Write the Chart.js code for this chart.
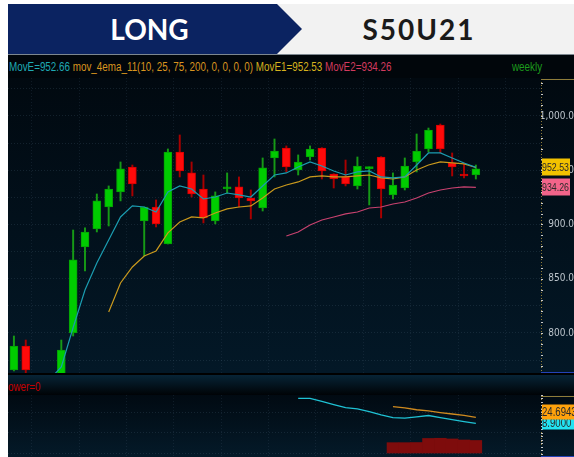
<!DOCTYPE html>
<html>
<head>
<meta charset="utf-8">
<script src="https://cdn.jsdelivr.net/npm/chart.js@4.4.0/dist/chart.umd.min.js"></script>
<style>
    html, body { margin: 0; padding: 0; background: #fff; }
    body { width: 574px; height: 457px; position: relative; overflow: hidden; }
    #header { position: absolute; left: 8px; top: 4px; width: 566px; height: 50px; background: #f2f2f2;
              border-bottom: 1px solid #7d8790; }
    #navy { position: absolute; left: 0; top: 0; width: 300px; height: 50px; background: #0b2361;
            clip-path: polygon(0 0, 269px 0, 294px 25px, 269px 50px, 0 50px); }
    .htitle { position: absolute; top: 0; height: 50px; line-height: 50px; font-family: Lato, 'Open Sans', sans-serif;
              font-weight: 700; font-size: 28px; text-align: center; }
    #longTitle { left: 0; width: 283px; color: #fff; }
    #codeTitle { left: 300px; width: 222px; color: #1a1a1a; letter-spacing: 2px; }
    #stage { position: absolute; left: 8px; top: 55px; width: 566px; height: 402px;
             background: linear-gradient(to bottom,
                #01060b 0px, #01060b 23px,
                #010910 23px, #031827 318px,
                #000000 318px, #000000 320px,
                #072436 320px, #000306 340px,
                #010a12 340px, #041a29 402px); }
    canvas { position: absolute; left: 8px; }
    #priceCanvas { top: 78px; }
    #powerCanvas { top: 395px; }
    .txt { position: absolute; font-family: 'Liberation Sans', Arial, sans-serif; font-size: 12px; line-height: 14px;
           white-space: nowrap; transform: scaleX(0.82); transform-origin: 0 0; }
    #legend { left: 9px; top: 60px; }
    #weekly { left: 512px; top: 60px; color: #1c9a1c; }
    #powerLabel { left: 8px; top: 380px; color: #c40000; }
</style>
</head>
<body>
<div id="header">
    <div id="navy"></div>
    <div id="longTitle" class="htitle">LONG</div>
    <div id="codeTitle" class="htitle">S50U21</div>
</div>
<div id="stage"></div>
<canvas id="priceCanvas" width="566" height="295"></canvas>
<canvas id="powerCanvas" width="566" height="62"></canvas>
<div id="legend" class="txt">
    <span id="legMovE" style="color:#1fa9b4"></span>
    <span id="legEma" style="color:#d9951f"></span>
    <span id="legMovE1" style="color:#d6b21e"></span>
    <span id="legMovE2" style="color:#d23a5e"></span>
</div>
<div id="weekly" class="txt">weekly</div>
<div id="powerLabel" class="txt">ower=0</div>

<script>
// weekly bars, the last 5 slots are empty space on the right
const weeks = Array.from({ length: 40 }, (_, i) => `W${i + 1}`);
const padSlots = ['', '', '', '', ''];

const opens  = [765.9, 788.0, 758.0, 735.0, 748.0, 800.0, 879.3, 895.9, 916.1, 930.0,
                953.0, 903.2, 916.1, 882.0, 966.8, 947.5, 932.7, 903.2, 932.8, 934.6,
                924.4, 915.2, 961.3, 970.5, 950.2, 962.2, 970.5, 946.5, 943.8, 935.5,
                951.4, 962.2, 927.2, 933.6, 957.6, 969.6, 991.7, 956.7, 946.5, 945.6];
const highs  = [797.2, 793.5, 761.0, 752.0, 793.5, 894.9, 896.8, 928.1, 935.5, 957.6,
                954.8, 916.1, 922.6, 969.6, 982.5, 957.6, 945.6, 930.0, 947.5, 943.8,
                931.8, 961.3, 978.8, 972.4, 964.1, 972.4, 970.8, 946.8, 959.4, 962.2,
                953.0, 962.5, 947.5, 961.3, 983.4, 988.9, 992.6, 965.9, 956.7, 954.8];
const lows   = [765.0, 763.0, 728.0, 718.0, 740.0, 797.2, 857.1, 893.1, 898.6, 921.7,
                926.3, 870.9, 897.7, 882.0, 943.8, 925.3, 901.4, 900.5, 929.0, 916.1,
                905.1, 912.4, 943.8, 948.4, 945.6, 959.4, 941.9, 933.6, 935.5, 932.7,
                918.0, 906.0, 923.5, 931.8, 948.4, 966.8, 965.9, 944.7, 942.9, 941.9];
const closes = [788.0, 766.0, 735.0, 748.0, 784.3, 867.3, 893.1, 921.7, 932.7, 951.2,
                937.3, 916.1, 900.5, 966.8, 949.3, 928.1, 906.0, 926.3, 933.4, 924.4,
                921.7, 952.1, 967.7, 953.0, 957.6, 969.6, 949.3, 941.9, 937.3, 953.9,
                952.0, 932.7, 936.4, 953.9, 967.7, 987.1, 969.6, 953.0, 944.7, 951.2];

const movE  = [null, null, null, 757.0, 768.7, 805.0, 839.6, 864.5, 885.7, 906.9,
               917.1, 916.1, 911.5, 930.0, 935.5, 932.7, 923.5, 925.3, 929.0, 927.2,
               925.3, 935.5, 945.6, 947.5, 953.0, 957.6, 953.9, 949.3, 945.6, 948.4,
               949.3, 943.8, 942.9, 943.8, 954.8, 965.9, 965.9, 961.3, 956.7, 952.66];
const movE1 = [null, null, null, null, null, null, null, null, 819.4, 846.1,
               860.8, 870.9, 875.6, 892.2, 902.3, 906.9, 906.0, 910.6, 914.3, 916.1,
               917.1, 924.4, 932.7, 936.4, 939.2, 943.8, 944.7, 943.8, 943.8, 944.7,
               945.6, 942.9, 941.9, 943.8, 950.2, 954.8, 957.6, 956.7, 955.8, 952.53];
const movE2 = [null, null, null, null, null, null, null, null, null, null,
               null, null, null, null, null, null, null, null, null, null,
               null, null, null, 889.4, 893.1, 899.5, 904.1, 906.9, 909.7, 911.5,
               915.2, 916.1, 918.9, 920.7, 924.4, 929.0, 931.8, 933.6, 934.6, 934.26];
const emaPeriods = [10, 25, 75, 200, 0, 0, 0, 0];

const priceGrid   = [775, 800, 825, 850, 875, 900, 925, 950, 975, 1000, 1025];
const priceLabels = [800, 850, 900, 950, 1000];

// lower "power" pane
const powerCyan   = [null, null, null, null, null, null, null, null, null, null,
                     null, null, null, null, null, null, null, null, null, null,
                     null, null, null, null, 45.2, 45.2, 40.6, 36.2, 31.6, 30.0,
                     26.0, 21.0, 17.3, 16.3, 18.1, 20.2, 17.3, 14.4, 11.5, 8.9];
const powerOrange = [null, null, null, null, null, null, null, null, null, null,
                     null, null, null, null, null, null, null, null, null, null,
                     null, null, null, null, null, null, null, null, null, null,
                     null, null, 33.0, 31.2, 28.6, 26.9, 24.5, 22.4, 20.3, 17.6];
const powerBars   = [null, null, null, null, null, null, null, null, null, null,
                     null, null, null, null, null, null, null, null, null, null,
                     null, null, null, null, null, null, null, null, null, null,
                     null, null, -19.2, -19.2, -19.0, -13.1, -12.8, -13.8, -15.3, -16.0];
const powerBase = -34.2;
const powerTag = 24.6943;
const powerGrid = [-35, -20, -5, 10, 25, 40];
const powerLabels = [40];

const AXIS_FONT = "'DejaVu Sans Condensed', 'Liberation Sans', sans-serif";
const TAG_FONT = "'Liberation Sans', Arial, sans-serif";
const last = arr => arr[arr.length - 1];

window.onload = () => {
    fillLegend();
    drawPriceChart();
    drawPowerChart();
};

const fillLegend = () => {
    document.getElementById('legMovE').textContent = `MovE=${last(movE).toFixed(2)}`;
    document.getElementById('legEma').textContent = `mov_4ema_11(${emaPeriods.join(', ')})`;
    document.getElementById('legMovE1').textContent = `MovE1=${last(movE1).toFixed(2)}`;
    document.getElementById('legMovE2').textContent = `MovE2=${last(movE2).toFixed(2)}`;
};

// value tag on the right axis, narrow text like the terminal font
const drawTag = (ctx, scale, value, text, bg, w, h, size) => {
    const py = Math.round(scale.getPixelForValue(value));
    ctx.save();
    ctx.fillStyle = bg;
    ctx.fillRect(scale.left + 1, py - h / 2, w, h);
    ctx.fillStyle = '#2b2b2b';
    ctx.font = `${size}px ${TAG_FONT}`;
    ctx.textAlign = 'left';
    ctx.textBaseline = 'middle';
    ctx.translate(scale.left + 1, py + 1);
    ctx.scale(0.8, 1);
    ctx.fillText(text, 0, 0);
    ctx.restore();
};

// dotted gold axis line, frame, minor ticks
const drawAxisFrame = (ctx, y, minorStep) => {
    ctx.save();
    ctx.strokeStyle = '#8f7c3a';
    ctx.lineWidth = 1;
    ctx.setLineDash([1, 2]);
    ctx.beginPath();
    ctx.moveTo(y.left + 0.5, y.top + 1);
    ctx.lineTo(y.left + 0.5, y.bottom);
    ctx.stroke();
    ctx.setLineDash([]);
    ctx.beginPath();
    ctx.moveTo(y.left, y.top + 1.5);
    ctx.lineTo(y.right, y.top + 1.5);
    ctx.stroke();
    ctx.strokeStyle = '#2443b8';
    ctx.beginPath();
    ctx.moveTo(y.left, y.bottom - 0.5);
    ctx.lineTo(y.right, y.bottom - 0.5);
    ctx.stroke();
    ctx.strokeStyle = '#c9c9c9';
    for (let v = Math.ceil(y.min / minorStep) * minorStep; v <= y.max; v += minorStep) {
        const py = Math.round(y.getPixelForValue(v)) + 0.5;
        ctx.beginPath();
        ctx.moveTo(y.left, py);
        ctx.lineTo(y.left + 2, py);
        ctx.stroke();
    }
    ctx.restore();
};

const priceTags = {
    id: 'priceTags',
    afterDraw(chart) {
        const { ctx, scales: { y } } = chart;
        drawAxisFrame(ctx, y, 10);
        drawTag(ctx, y, last(movE1), last(movE1).toFixed(2), '#f2c200', 28, 17, 11);
        drawTag(ctx, y, last(movE2), last(movE2).toFixed(2), '#f2648a', 28, 17, 11);
    }
};

const powerTags = {
    id: 'powerTags',
    afterDraw(chart) {
        const { ctx, scales: { y } } = chart;
        drawAxisFrame(ctx, y, 5);
        drawTag(ctx, y, last(powerCyan), last(powerCyan).toFixed(4), '#22e3f2', 33, 13, 12);
        drawTag(ctx, y, powerTag, powerTag.toFixed(4), '#ffa20c', 33, 15, 12);
    }
};

const xScale = () => ({
    type: 'category',
    offset: true,
    ticks: { display: false },
    grid: {
        drawTicks: false,
        offset: true,
        color: c => (c.index % 4 === 2 ? 'rgba(70, 92, 112, 0.22)' : 'transparent')
    },
    border: { display: false, dash: [1, 2] }
});

const yScale = (min, max, grid, labels, fmt) => ({
    position: 'right',
    min,
    max,
    afterFit: scale => {
        scale.width = 33;
        scale.paddingTop = 0;
        scale.paddingBottom = 0;
    },
    afterBuildTicks: scale => { scale.ticks = grid.map(value => ({ value })); },
    ticks: {
        crossAlign: 'far',
        padding: 0,
        color: '#bcc4cb',
        font: { family: AXIS_FONT, size: 10 },
        callback: value => (labels.includes(value) ? fmt(value) : '')
    },
    grid: { drawTicks: false, color: 'rgba(70, 92, 112, 0.28)' },
    border: { display: false, dash: [1, 2] }
});

const drawPriceChart = () => {
    const up = closes.map((c, i) => c >= opens[i]);
    new Chart(document.getElementById('priceCanvas'), {
        type: 'bar',
        data: {
            labels: [...weeks, ...padSlots],
            datasets: [
                { type: 'line', label: 'MovE', data: movE, borderColor: '#1b9cb0', borderWidth: 1.2, pointRadius: 0, order: 0 },
                { type: 'line', label: 'MovE1', data: movE1, borderColor: '#c9991d', borderWidth: 1.2, pointRadius: 0, order: 0 },
                { type: 'line', label: 'MovE2', data: movE2, borderColor: '#c8426f', borderWidth: 1.2, pointRadius: 0, order: 0 },
                {
                    label: 'body',
                    data: opens.map((o, i) => [o, closes[i]]),
                    backgroundColor: up.map(u => (u ? '#00cc00' : '#ff0a0a')),
                    borderColor: up.map(u => (u ? '#05a005' : '#d40000')),
                    borderWidth: 1,
                    borderSkipped: false,
                    barThickness: 8,
                    minBarLength: 2,
                    grouped: false,
                    order: 1
                },
                {
                    label: 'wick',
                    data: lows.map((l, i) => [l, highs[i]]),
                    backgroundColor: up.map(u => (u ? '#169a16' : '#a80000')),
                    barThickness: 1.3,
                    grouped: false,
                    order: 2
                }
            ]
        },
        options: {
            responsive: false,
            animation: false,
            devicePixelRatio: 1,
            layout: { padding: 0 },
            plugins: { legend: { display: false }, tooltip: { enabled: false } },
            scales: {
                x: xScale(),
                y: yScale(763.1, 1035, priceGrid, priceLabels,
                    v => v.toLocaleString('en-US', { minimumFractionDigits: 1, maximumFractionDigits: 1 }))
            }
        },
        plugins: [priceTags]
    });
};

const drawPowerChart = () => {
    new Chart(document.getElementById('powerCanvas'), {
        type: 'bar',
        data: {
            labels: [...weeks, ...padSlots],
            datasets: [
                { type: 'line', data: powerCyan, borderColor: '#1fc2d4', borderWidth: 1.3, pointRadius: 0, order: 0 },
                { type: 'line', data: powerOrange, borderColor: '#cf8a1f', borderWidth: 1.3, pointRadius: 0, order: 0 },
                {
                    data: powerBars.map(v => (v === null ? null : [powerBase, v])),
                    backgroundColor: '#7e0c0c',
                    barPercentage: 1,
                    categoryPercentage: 1,
                    grouped: false,
                    order: 1
                }
            ]
        },
        options: {
            responsive: false,
            animation: false,
            devicePixelRatio: 1,
            layout: { padding: 0 },
            plugins: { legend: { display: false }, tooltip: { enabled: false } },
            scales: {
                x: xScale(),
                y: yScale(-40, 50, powerGrid, powerLabels, v => v.toFixed(3))
            }
        },
        plugins: [powerTags]
    });
};
</script>
</body>
</html>
